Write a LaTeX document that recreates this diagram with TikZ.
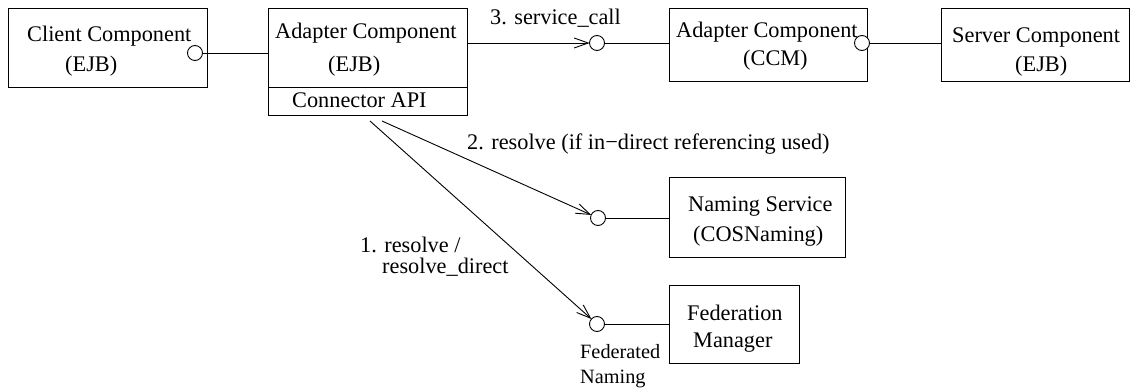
\documentclass[tikz,border=0pt]{standalone}
\usepackage{fontspec}
\setmainfont{Liberation Serif}
\usetikzlibrary{arrows.meta}

\begin{document}
\begin{tikzpicture}[x=1pt,y=-1pt,
  box/.style={draw, line width=0.9pt, rectangle, inner sep=0pt, outer sep=0pt, anchor=north west},
  port/.style={draw, circle, line width=0.9pt, minimum size=15pt, inner sep=0pt, outer sep=0pt, fill=white},
  txt/.style={font=\fontsize{22.3}{26}\selectfont, inner sep=0pt, anchor=base west},
  small/.style={font=\fontsize{20.3}{24}\selectfont, inner sep=0pt, anchor=base west},
  wire/.style={line width=0.9pt},
  call/.style={wire, -{Straight Barb[length=14pt,width=10pt,line width=0.9pt]}},
]
\useasboundingbox (0,0) rectangle (1130,390);

% component boxes
\node[box, minimum width=199pt, minimum height=79pt] (client) at (8,8) {};
\node[box, minimum width=199pt, minimum height=107pt] (adapter) at (268,8) {};
\draw[wire] (268,87) -- (467,87);
\node[box, minimum width=198pt, minimum height=73pt] (ccm) at (669,8) {};
\node[box, minimum width=188pt, minimum height=73pt] (server) at (941,8) {};
\node[box, minimum width=176pt, minimum height=80pt] (naming) at (669,177) {};
\node[box, minimum width=130pt, minimum height=78pt] (fedmgr) at (669,285) {};

% box texts
\node[txt] (clientA) at (27,42) {Client Component};
\node[txt] (clientB) at (65,72) {(EJB)};
\node[txt] (adaptA) at (275,39) {Adapter Component};
\node[txt] (adaptB) at (328,72) {(EJB)};
\node[txt] (adaptC) at (292,108) {Connector API};
\node[txt] (ccmA) at (676,38) {Adapter Component};
\node[txt] (ccmB) at (743,66) {(CCM)};
\node[txt] (serverA) at (952,43) {Server Component};
\node[txt] (serverB) at (1015,72) {(EJB)};
\node[txt] (namingA) at (688,212) {Naming Service};
\node[txt] (namingB) at (693,242) {(COSNaming)};
\node[txt] (fedA) at (687,320) {Federation};
\node[txt] (fedB) at (693,347) {Manager};

% interface ports
\node[port] (clientport) at (195,53) {};
\node[port] (svcport) at (597,43) {};
\node[port] (ccmport) at (862,43) {};
\node[port] (namport) at (598,218) {};
\node[port] (fedport) at (597,324) {};

% connectors
\draw[wire] (clientport.east) -- (adapter.west |- clientport);
\draw[call] (adapter.east |- svcport) -- (svcport.west);
\draw[wire] (svcport.east) -- (ccm.west |- svcport);
\draw[wire] (ccmport.east) -- (server.west |- ccmport);
\draw[wire] (namport.east) -- (naming.west |- namport);
\draw[wire] (fedport.east) -- (fedmgr.west |- fedport);

\coordinate (apiA) at (370,121);
\coordinate (apiB) at (382,121);
\draw[call] (apiA) -- (fedport);
\draw[call] (apiB) -- (namport);

% call labels
\node[txt] (lblcall) at (490,25) {3. service\_call};
\node[txt] (lblres) at (467,150) {2. resolve (if in−direct referencing used)};
\node[txt] (lbldirA) at (360,252) {1. resolve /};
\node[txt] (lbldirB) at (382,273) {resolve\_direct};
\node[small] (fednA) at (580,358) {Federated};
\node[small] (fednB) at (580,383) {Naming};
\end{tikzpicture}
\end{document}
